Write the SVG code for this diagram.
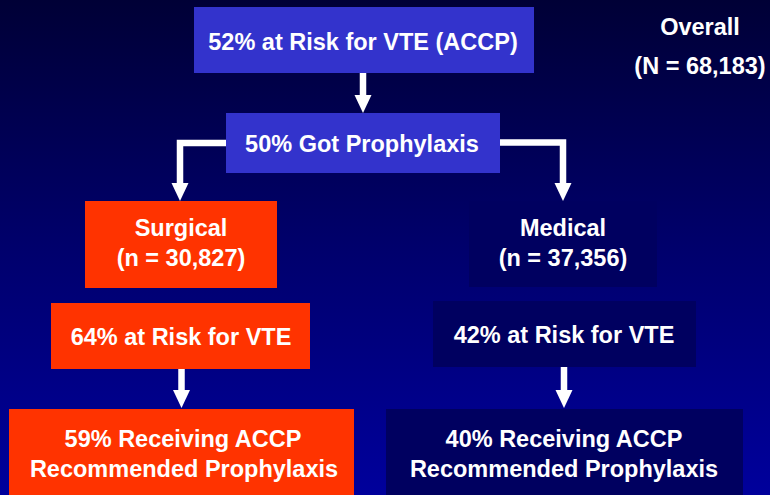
<svg xmlns="http://www.w3.org/2000/svg" width="770" height="495" viewBox="0 0 770 495">
  <defs>
    <linearGradient id="bg" x1="0" y1="0" x2="0" y2="1">
      <stop offset="0" stop-color="#000036"/>
      <stop offset="0.5" stop-color="#00006c"/>
      <stop offset="1" stop-color="#00009c"/>
    </linearGradient>
    <marker id="head" markerUnits="userSpaceOnUse" markerWidth="18" markerHeight="18" viewBox="0 0 18 18" refX="0" refY="9" orient="auto">
      <path d="M0,0.5 L18,9 L0,17.5 z" fill="#ffffff"/>
    </marker>
    <style>
      .lbl { font-family: "Liberation Sans", Arial, sans-serif; font-weight: bold; font-size: 23.5px; fill: #ffffff; text-anchor: middle; }
      .blue { fill: #3333cc; }
      .orange { fill: #ff3300; }
      .navy { fill: #000060; }
      .link { fill: none; stroke: #ffffff; stroke-width: 6.5; stroke-linejoin: miter; marker-end: url(#head); }
    </style>
  </defs>

  <rect width="770" height="495" fill="url(#bg)"/>

  <g id="overall">
    <text class="lbl" x="700" y="35">Overall</text>
    <text class="lbl" x="700" y="74">(N = 68,183)</text>
  </g>

  <g id="at-risk-all">
    <rect class="blue" x="194" y="7" width="340" height="66"/>
    <text class="lbl" x="363" y="50">52% at Risk for VTE (ACCP)</text>
  </g>

  <g id="got-prophylaxis">
    <rect class="blue" x="226" y="113" width="274" height="60"/>
    <text class="lbl" x="362" y="152">50% Got Prophylaxis</text>
  </g>

  <g id="surgical">
    <rect class="orange" x="85" y="201" width="192" height="87"/>
    <text class="lbl" x="181" y="236">Surgical</text>
    <text class="lbl" x="181" y="266">(n = 30,827)</text>
  </g>

  <g id="medical">
    <rect class="navy" x="469" y="201" width="188" height="86"/>
    <text class="lbl" x="563" y="236">Medical</text>
    <text class="lbl" x="563" y="266">(n = 37,356)</text>
  </g>

  <g id="surgical-risk">
    <rect class="orange" x="51" y="303" width="259" height="66"/>
    <text class="lbl" x="181" y="345">64% at Risk for VTE</text>
  </g>

  <g id="medical-risk">
    <rect class="navy" x="433" y="301" width="263" height="66"/>
    <text class="lbl" x="564" y="343">42% at Risk for VTE</text>
  </g>

  <g id="surgical-accp">
    <rect class="orange" x="9" y="409" width="345" height="90"/>
    <text class="lbl" x="183" y="447">59% Receiving ACCP</text>
    <text class="lbl" x="184" y="477">Recommended Prophylaxis</text>
  </g>

  <g id="medical-accp">
    <rect class="navy" x="386" y="409" width="357" height="90"/>
    <text class="lbl" x="564" y="447">40% Receiving ACCP</text>
    <text class="lbl" x="564" y="477">Recommended Prophylaxis</text>
  </g>

  <g id="connectors">
    <path class="link" d="M363,73 V95"/>
    <path class="link" d="M226,143 H180 V183"/>
    <path class="link" d="M500,142.5 H563 V183"/>
    <path class="link" d="M181.5,369 V390"/>
    <path class="link" d="M564,367 V390"/>
  </g>
</svg>
